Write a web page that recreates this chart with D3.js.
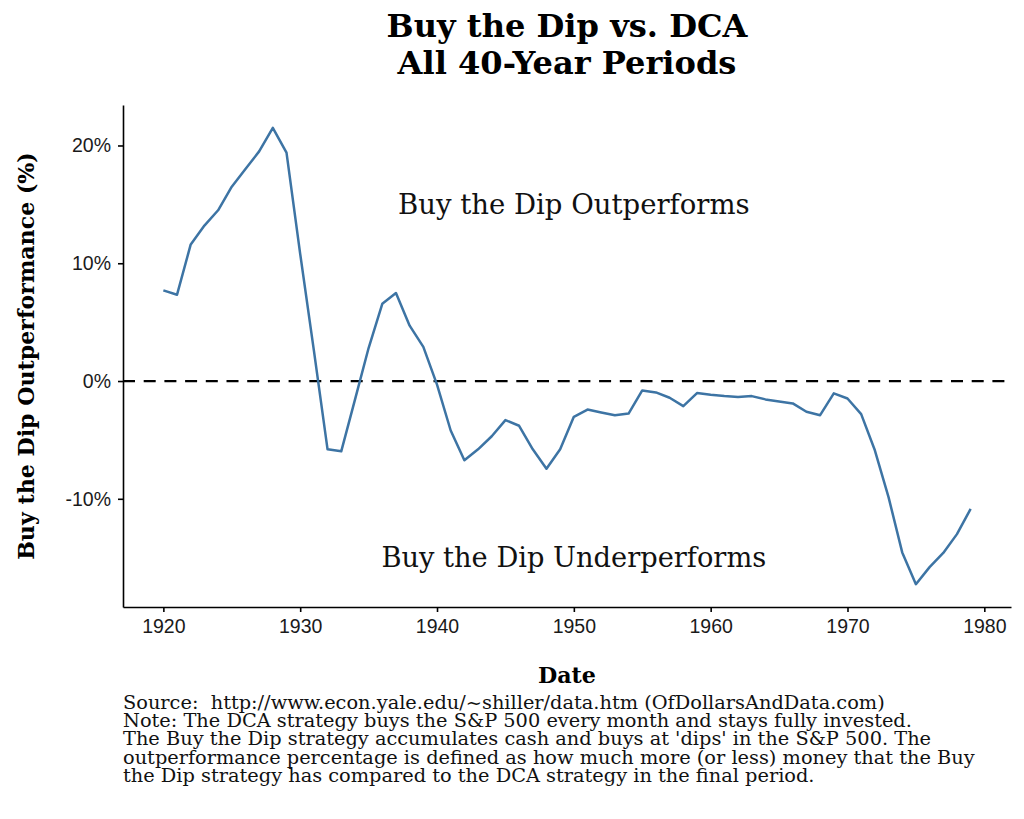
<!DOCTYPE html>
<html>
<head>
<meta charset="utf-8">
<script src="https://cdn.jsdelivr.net/npm/d3@7"></script>
<style>
  body { margin: 0; background: #fff; }
</style>
</head>
<body>
<div id="chart"></div>
<script>
// data
var years = [1920,1921,1922,1923,1924,1925,1926,1927,1928,1929,
             1930,1931,1932,1933,1934,1935,1936,1937,1938,1939,
             1940,1941,1942,1943,1944,1945,1946,1947,1948,1949,
             1950,1951,1952,1953,1954,1955,1956,1957,1958,1959,
             1960,1961,1962,1963,1964,1965,1966,1967,1968,1969,
             1970,1971,1972,1973,1974,1975,1976,1977,1978,1979];
var outperformance = [7.70,7.33,11.6,13.2,14.5,16.5,18.0,19.5,21.5,19.4,
                      10.8,2.6,-5.8,-5.97,-1.6,2.8,6.56,7.47,4.7,2.9,
                      -0.3,-4.2,-6.73,-5.8,-4.69,-3.32,-3.8,-5.8,-7.45,-5.8,
                      -3.04,-2.42,-2.67,-2.9,-2.76,-0.8,-0.97,-1.42,-2.13,-1.02,
                      -1.17,-1.28,-1.36,-1.28,-1.56,-1.73,-1.9,-2.61,-2.9,-1.05,
                      -1.48,-2.81,-5.88,-9.86,-14.55,-17.25,-15.8,-14.6,-13.0,-10.85];
var xTicks = [1920,1930,1940,1950,1960,1970,1980];
var yTicks = [-10,0,10,20];
var titleLines = ["Buy the Dip vs. DCA", "All 40-Year Periods"];
var captionLines = [
  "Source:  http://www.econ.yale.edu/~shiller/data.htm (OfDollarsAndData.com)",
  "Note: The DCA strategy buys the S&P 500 every month and stays fully invested.",
  "The Buy the Dip strategy accumulates cash and buys at 'dips' in the S&P 500. The",
  "outperformance percentage is defined as how much more (or less) money that the Buy",
  "the Dip strategy has compared to the DCA strategy in the final period."
];
var annotations = [
  {year: 1950, value: 15, label: "Buy the Dip Outperforms"},
  {year: 1950, value: -15, label: "Buy the Dip Underperforms"}
];

var svgWidth = 1024;
var svgHeight = 819;
var margin = {top: 105, right: 13, bottom: 212, left: 123};
var width = svgWidth - margin.left - margin.right;
var height = svgHeight - margin.top - margin.bottom;

var serif = "'DejaVu Serif', serif";
var sans = "'Liberation Sans', Arial, sans-serif";

// scale a text's font size so it spans the given width
function fitWidth(sel, target) {
  var w = sel.node().getComputedTextLength();
  var fs = parseFloat(sel.attr("font-size"));
  sel.attr("font-size", fs * target / w);
  return fs * target / w;
}

var data = years.map(function(y, i) { return {year: y, value: outperformance[i]}; });

var svg = d3.select("#chart")
  .append("svg")
  .attr("width", svgWidth)
  .attr("height", svgHeight);

var chartGroup = svg.append("g")
  .attr("transform", `translate(${margin.left}, ${margin.top})`);

// ggplot-style 5% expansion
var xExt = d3.extent(years);
var xPad = (xExt[1] - xExt[0]) * 0.05;
var yExt = d3.extent(outperformance);
var yPad = (yExt[1] - yExt[0]) * 0.05;

var xScale = d3.scaleLinear()
  .domain([xExt[0] - xPad, xExt[1] + xPad])
  .range([0, width]);

var yScale = d3.scaleLinear()
  .domain([yExt[0] - yPad, yExt[1] + yPad])
  .range([height, 0]);

// axes
var xAxis = d3.axisBottom(xScale).tickValues(xTicks).tickFormat(d3.format("d"))
  .tickSize(5).tickPadding(6).tickSizeOuter(0);
var yAxis = d3.axisLeft(yScale).tickValues(yTicks).tickFormat(function(d) { return d + "%"; })
  .tickSize(5).tickPadding(7).tickSizeOuter(0);

var gx = chartGroup.append("g")
  .attr("transform", `translate(0, ${height})`)
  .call(xAxis);
var gy = chartGroup.append("g")
  .call(yAxis);

[gx, gy].forEach(function(g) {
  g.select(".domain").attr("stroke", "#000").attr("stroke-width", 1.6);
  g.selectAll(".tick line").attr("stroke", "#000").attr("stroke-width", 1.6);
  g.selectAll(".tick text")
    .attr("fill", "#1a1a1a")
    .attr("font-family", sans)
    .attr("font-size", "19.5px");
});
gx.selectAll(".tick text").attr("dy", "0.78em");

// zero line
chartGroup.append("line")
  .attr("x1", 0)
  .attr("x2", width)
  .attr("y1", yScale(0))
  .attr("y2", yScale(0))
  .attr("stroke", "#000")
  .attr("stroke-width", 2.2)
  .attr("stroke-dasharray", "12,8.7");

// the series
var line = d3.line()
  .x(d => xScale(d.year))
  .y(d => yScale(d.value));

chartGroup.append("path")
  .datum(data)
  .attr("d", line)
  .attr("fill", "none")
  .attr("stroke", "#3d74a4")
  .attr("stroke-width", 2.5)
  .attr("stroke-linejoin", "round");

// annotations
var annoWidths = [352, 385];
annotations.forEach(function(a, i) {
  var t = chartGroup.append("text")
    .attr("x", xScale(a.year))
    .attr("y", yScale(a.value))
    .attr("dy", "0.35em")
    .attr("text-anchor", "middle")
    .attr("font-family", serif)
    .attr("font-size", 24)
    .attr("fill", "#111")
    .text(a.label);
  fitWidth(t, annoWidths[i]);
});

// title
var t1 = svg.append("text")
  .attr("x", margin.left + width / 2)
  .attr("y", 37)
  .attr("text-anchor", "middle")
  .attr("font-family", serif)
  .attr("font-weight", "bold")
  .attr("font-size", 30)
  .attr("fill", "#000")
  .text(titleLines[0]);
var titleSize = fitWidth(t1, 361);
svg.append("text")
  .attr("x", margin.left + width / 2)
  .attr("y", 74)
  .attr("text-anchor", "middle")
  .attr("font-family", serif)
  .attr("font-weight", "bold")
  .attr("font-size", titleSize)
  .attr("fill", "#000")
  .text(titleLines[1]);

// axis titles
var xt = svg.append("text")
  .attr("x", margin.left + width / 2)
  .attr("y", 683)
  .attr("text-anchor", "middle")
  .attr("font-family", serif)
  .attr("font-weight", "bold")
  .attr("font-size", 22)
  .attr("fill", "#000")
  .text("Date");
fitWidth(xt, 58);

var yt = svg.append("text")
  .attr("transform", `translate(34, ${margin.top + height / 2}) rotate(-90)`)
  .attr("text-anchor", "middle")
  .attr("font-family", serif)
  .attr("font-weight", "bold")
  .attr("font-size", 22)
  .attr("fill", "#000")
  .text("Buy the Dip Outperformance (%)");
fitWidth(yt, 408);

// caption, one text element per line, tight spacing as in the original
var capSize = 17;
var capLines = svg.selectAll(".caption")
  .data(captionLines)
  .enter()
  .append("text")
  .attr("class", "caption")
  .attr("x", margin.left)
  .attr("y", (d, i) => 709 + i * 18.2)
  .attr("font-family", serif)
  .attr("font-size", capSize)
  .attr("fill", "#111")
  .style("white-space", "pre")
  .text(d => d);
var lw = capLines.filter((d, i) => i === 3).node().getComputedTextLength();
capLines.attr("font-size", capSize * 852 / lw);
</script>
</body>
</html>
